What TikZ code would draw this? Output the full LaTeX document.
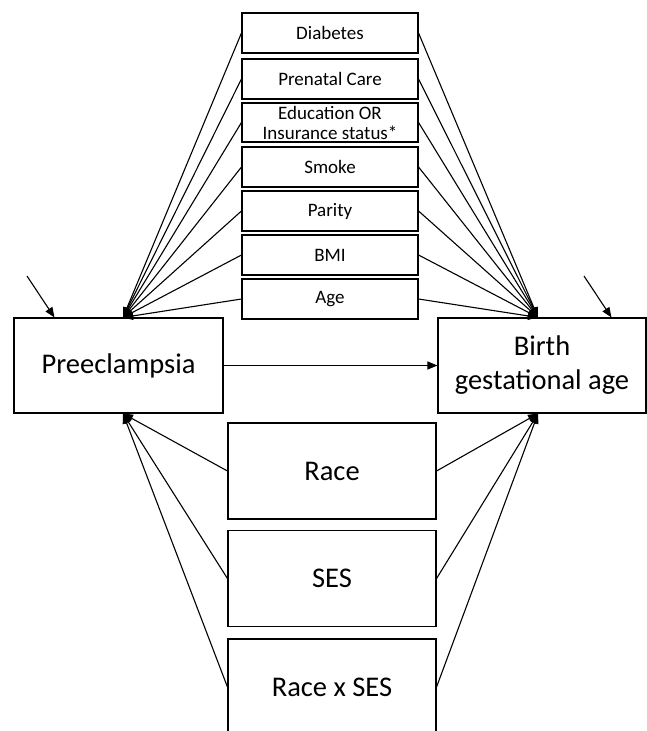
\documentclass[tikz,border=0pt]{standalone}
\usepackage{fontspec}
\setmainfont{Carlito}
\usetikzlibrary{arrows.meta}

\tikzset{
  smallbox/.style={draw,line width=1.1pt,minimum width=176pt,minimum height=40pt,inner sep=0pt,align=center,font=\fontsize{19}{20}\selectfont},
  bigbox/.style={draw,line width=1.1pt,minimum width=208pt,minimum height=95pt,inner sep=0pt,align=center,font=\fontsize{28.5}{34}\selectfont},
  conn/.style={line width=1.1pt,-{Triangle[length=10pt,width=8pt]}}
}

\begin{document}
\begin{tikzpicture}[x=1pt,y=-1pt]
  \clip (0,0) rectangle (647,731);
  % outcome and exposure
  \node[bigbox,minimum width=209pt] (pre) at (118.5,365.5) {Preeclampsia};
  \node[bigbox] (bga) at (542,365.5) {Birth\\gestational age};
  % covariates on top
  \node[smallbox] (diab) at (330,33) {Diabetes};
  \node[smallbox] (prenat) at (330,79) {Prenatal Care};
  \node[smallbox,minimum height=39pt] (edu) at (330,122.5) {Education OR\\Insurance status*};
  \node[smallbox] (smoke) at (330,167) {Smoke};
  \node[smallbox] (parity) at (330,211) {Parity};
  \node[smallbox] (bmi) at (330,255) {BMI};
  \node[smallbox] (age) at (330,299) {Age};
  % race and SES below
  \node[bigbox,minimum height=96pt] (race) at (332,471) {Race};
  \node[bigbox,minimum height=96pt] (ses) at (332,578.5) {SES};
  \node[bigbox,minimum height=96pt] (rxs) at (332,687) {Race x SES};

  \coordinate (pretop) at ([xshift=4.5pt]pre.north);
  \coordinate (prebot) at ([xshift=4.5pt]pre.south);
  \coordinate (bgatop) at ([xshift=-4pt]bga.north);
  \coordinate (bgabot) at ([xshift=-4pt]bga.south);
  \coordinate (preerr) at (27,276);
  \coordinate (bgaerr) at (584,276);

  \foreach \n in {diab,prenat,edu,smoke,parity,bmi,age} {
    \draw[conn] (\n.west) -- (pretop);
    \draw[conn] (\n.east) -- (bgatop);
  }
  \foreach \n in {race,ses,rxs} {
    \draw[conn] (\n.west) -- (prebot);
    \draw[conn] (\n.east) -- (bgabot);
  }
  \draw[conn] (pre.east) -- (bga.west);
  \draw[conn] (preerr) -- ([xshift=41pt]pre.north west);
  \draw[conn] (bgaerr) -- ([xshift=174pt]bga.north west);
\end{tikzpicture}
\end{document}
